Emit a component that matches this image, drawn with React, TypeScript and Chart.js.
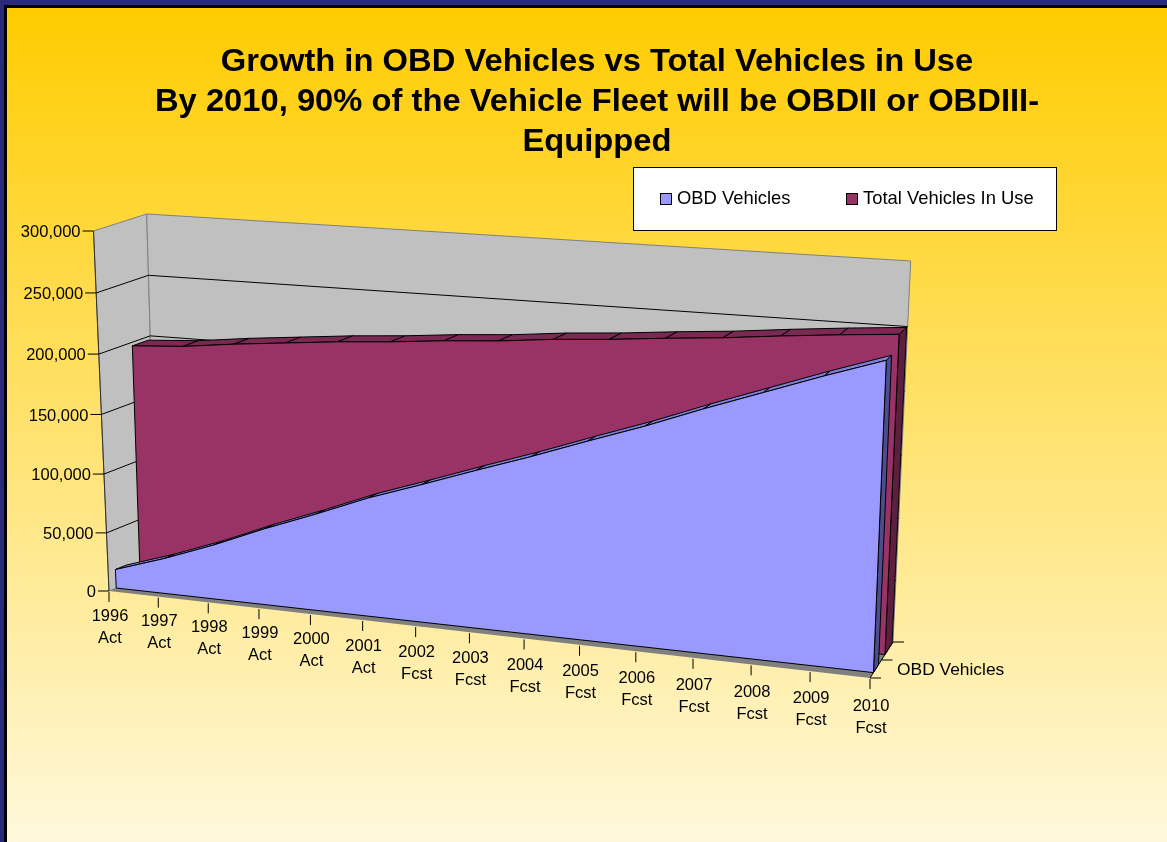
import React, { useEffect, useRef } from "react";
import { Chart, registerables } from "chart.js";

Chart.register(...registerables);

const years = ["1996","1997","1998","1999","2000","2001","2002","2003","2004","2005","2006","2007","2008","2009","2010"];
const phases = ["Act","Act","Act","Act","Act","Act","Fcst","Fcst","Fcst","Fcst","Fcst","Fcst","Fcst","Fcst","Fcst"];
const obdVehicles = [16000,30000,46000,64000,80500,98000,113000,128500,143500,159500,175000,192000,208000,224000,239000];
const totalVehicles = [197000,199700,204700,208800,212900,216000,220000,223000,227400,230500,234500,238000,242500,246500,250000];
const titleLines = [
  "Growth in OBD Vehicles vs Total Vehicles in Use",
  "By 2010, 90% of the Vehicle Fleet will be OBDII or OBDIII-",
  "Equipped",
];

const FONT = '"Liberation Sans", Arial, sans-serif';

type Pt = [number, number];
type Quad = { bl: Pt; br: Pt; tr: Pt; tl: Pt };

// Box of the 3D view: the front plane and the back wall, in canvas pixels.
const frontPlane: Quad = { bl: [109, 591], br: [870, 678], tr: [886, 280], tl: [93.5, 231] };
const backPlane: Quad = { bl: [157, 571], br: [893, 642], tr: [910.7, 261], tl: [146.7, 214] };

const lerp = (a: Pt, b: Pt, t: number): Pt => [a[0] + (b[0] - a[0]) * t, a[1] + (b[1] - a[1]) * t];

// Unit-square to quadrilateral homography for the plane at depth t.
function planeAt(t: number) {
  const p00 = lerp(frontPlane.bl, backPlane.bl, t);
  const p10 = lerp(frontPlane.br, backPlane.br, t);
  const p11 = lerp(frontPlane.tr, backPlane.tr, t);
  const p01 = lerp(frontPlane.tl, backPlane.tl, t);
  const dx3 = p00[0] - p10[0] + p11[0] - p01[0];
  const dy3 = p00[1] - p10[1] + p11[1] - p01[1];
  const dx1 = p10[0] - p11[0];
  const dx2 = p01[0] - p11[0];
  const dy1 = p10[1] - p11[1];
  const dy2 = p01[1] - p11[1];
  const det = dx1 * dy2 - dx2 * dy1;
  const g = (dx3 * dy2 - dx2 * dy3) / det;
  const h = (dx1 * dy3 - dx3 * dy1) / det;
  const a = p10[0] - p00[0] + g * p10[0];
  const b = p01[0] - p00[0] + h * p01[0];
  const d = p10[1] - p00[1] + g * p10[1];
  const e = p01[1] - p00[1] + h * p01[1];
  return (u: number, v: number): Pt => {
    const w = g * u + h * v + 1;
    return [(a * u + b * v + p00[0]) / w, (d * u + e * v + p00[1]) / w];
  };
}

function poly(ctx: CanvasRenderingContext2D, pts: Pt[], fill?: string, stroke?: string, lw = 1) {
  ctx.beginPath();
  pts.forEach((p, i) => (i ? ctx.lineTo(p[0], p[1]) : ctx.moveTo(p[0], p[1])));
  ctx.closePath();
  if (fill) {
    ctx.fillStyle = fill;
    ctx.fill();
  }
  if (stroke) {
    ctx.strokeStyle = stroke;
    ctx.lineWidth = lw;
    ctx.stroke();
  }
}

function line(ctx: CanvasRenderingContext2D, a: Pt, b: Pt, color = "#000", lw = 1) {
  ctx.beginPath();
  ctx.moveTo(a[0], a[1]);
  ctx.lineTo(b[0], b[1]);
  ctx.strokeStyle = color;
  ctx.lineWidth = lw;
  ctx.stroke();
}

// One extruded area series: its top ribbon, end cap and front face.
function drawArea(chart: any, index: number, tf: number, tb: number, face: string, top: string, side: string) {
  const ctx: CanvasRenderingContext2D = chart.ctx;
  const area = chart.chartArea;
  const front = planeAt(tf);
  const back = planeAt(tb);
  const meta = chart.getDatasetMeta(index);
  const pts = meta.data.map((el: any) => [
    (el.x - area.left) / area.width,
    (area.bottom - el.y) / area.height,
  ]);
  const n = pts.length;
  poly(ctx, [front(pts[n - 1][0], pts[n - 1][1]), back(pts[n - 1][0], pts[n - 1][1]), back(1, 0), front(1, 0)], side, "#000");
  for (let i = 0; i < n - 1; i++) {
    const [u0, v0] = pts[i];
    const [u1, v1] = pts[i + 1];
    poly(ctx, [front(u0, v0), front(u1, v1), back(u1, v1), back(u0, v0)], top, "#000");
  }
  const outline: Pt[] = pts.map((p: number[]) => front(p[0], p[1]));
  outline.push(front(1, 0), front(0, 0));
  poly(ctx, outline, face, "#000");
}

const perspectivePlugin = {
  id: "perspectiveArea",
  beforeDraw(chart: any) {
    const { ctx, width, height } = chart;
    ctx.save();
    ctx.fillStyle = "#2a2a7c";
    ctx.fillRect(0, 0, width, height);
    ctx.fillStyle = "#000";
    ctx.fillRect(4, 5, width - 4, height - 5);
    const grad = ctx.createLinearGradient(0, 8, 0, height);
    grad.addColorStop(0, "#ffcc00");
    grad.addColorStop(1, "#fff8dc");
    ctx.fillStyle = grad;
    ctx.fillRect(7, 8, width - 7, height - 8);
    ctx.restore();
  },
  afterDatasetsDraw(chart: any) {
    const ctx: CanvasRenderingContext2D = chart.ctx;
    const yScale = chart.scales.y;
    const xScale = chart.scales.x;
    const area = chart.chartArea;
    const f = planeAt(0);
    const b = planeAt(1);
    ctx.save();

    // Floor and walls
    poly(ctx, [f(0, 0), f(1, 0), b(1, 0), b(0, 0)], "#808080");
    poly(ctx, [f(0, 0), f(0, 1), b(0, 1), b(0, 0)], "#c0c0c0", "#808080");
    poly(ctx, [b(0, 0), b(1, 0), b(1, 1), b(0, 1)], "#c0c0c0", "#808080");
    line(ctx, f(0, 0), f(0, 1), "#303030");

    // Value axis: gridlines around the walls, ticks and labels
    ctx.font = `16.5px ${FONT}`;
    ctx.fillStyle = "#000";
    yScale.ticks.forEach((tick: any) => {
      const v = (area.bottom - yScale.getPixelForValue(tick.value)) / area.height;
      const p = f(0, v);
      if (tick.value > 0 && tick.value < yScale.max) {
        line(ctx, p, b(0, v));
        line(ctx, b(0, v), b(1, v));
      }
      line(ctx, [p[0] - 11, p[1]], p);
      ctx.textAlign = "right";
      ctx.textBaseline = "middle";
      ctx.fillStyle = "#000";
      ctx.fillText(tick.label, p[0] - 13, p[1] + 1.5);
    });

    // Series, back to front
    drawArea(chart, 1, 0.65, 0.96, "#993366", "#7a2952", "#5c1f3d");
    drawArea(chart, 0, 0.15, 0.37, "#9999ff", "#7f7fd8", "#4d4d8c");

    // Category axis
    line(ctx, f(1, 0), b(1, 0));
    ctx.textAlign = "center";
    xScale.ticks.forEach((tick: any, i: number) => {
      const u = (xScale.getPixelForTick(i) - area.left) / area.width;
      const p = f(u, 0);
      line(ctx, [p[0], p[1] + 1], [p[0], p[1] + 11]);
      const [yr, phase] = tick.label as string[];
      ctx.font = `16.5px ${FONT}`;
      ctx.fillStyle = "#000";
      ctx.fillText(yr, p[0] + 1, p[1] + 25 + 3 * u);
      ctx.fillText(phase, p[0] + 1, p[1] + 47 + 3 * u);
    });

    // Depth axis
    const mid = planeAt(0.5);
    [f(1, 0), mid(1, 0), b(1, 0)].forEach((p) => line(ctx, p, [p[0] + 11, p[1]]));
    ctx.textAlign = "left";
    ctx.font = `17.4px ${FONT}`;
    ctx.fillText(chart.data.datasets[0].label, 897, 670);

    // Title, drawn slightly wide
    ctx.save();
    ctx.translate(597, 0);
    ctx.scale(1.056, 1);
    ctx.textAlign = "center";
    ctx.font = `bold 31px ${FONT}`;
    titleLines.forEach((t, i) => ctx.fillText(t, 0, 62.5 + i * 40));
    ctx.restore();

    // Legend
    ctx.fillStyle = "#fff";
    ctx.fillRect(633.5, 167.5, 423, 63);
    ctx.strokeStyle = "#000";
    ctx.lineWidth = 1;
    ctx.strokeRect(633.5, 167.5, 423, 63);
    ctx.font = `18.4px ${FONT}`;
    ctx.textAlign = "left";
    [
      [660.5, 677],
      [846.5, 863],
    ].forEach(([box, text], i) => {
      const ds = chart.data.datasets[i];
      ctx.fillStyle = ds.backgroundColor;
      ctx.fillRect(box, 193.5, 11, 11);
      ctx.strokeRect(box, 193.5, 11, 11);
      ctx.fillStyle = "#000";
      ctx.fillText(ds.label, text, 199);
    });
    ctx.restore();
  },
};

export default function App() {
  const ref = useRef<HTMLCanvasElement>(null);
  useEffect(() => {
    const chart = new Chart(ref.current!, {
      type: "line",
      data: {
        labels: years.map((y, i) => [y, phases[i]]),
        datasets: [
          { label: "OBD Vehicles", data: obdVehicles, backgroundColor: "#9999ff", showLine: false, pointRadius: 0 },
          { label: "Total Vehicles In Use", data: totalVehicles, backgroundColor: "#993366", showLine: false, pointRadius: 0 },
        ],
      },
      options: {
        animation: false,
        responsive: false,
        layout: { padding: { left: 100, right: 307, top: 230, bottom: 252 } },
        plugins: { legend: { display: false }, title: { display: false }, tooltip: { enabled: false } },
        scales: {
          x: { display: false, offset: false, ticks: { autoSkip: false } },
          y: { display: false, min: 0, max: 300000, ticks: { stepSize: 50000 } },
        },
      },
      plugins: [perspectivePlugin],
    });
    return () => chart.destroy();
  }, []);
  return (
    <div style={{ position: "absolute", left: 0, top: 0 }}>
      <canvas ref={ref} width={1167} height={842} />
    </div>
  );
}
